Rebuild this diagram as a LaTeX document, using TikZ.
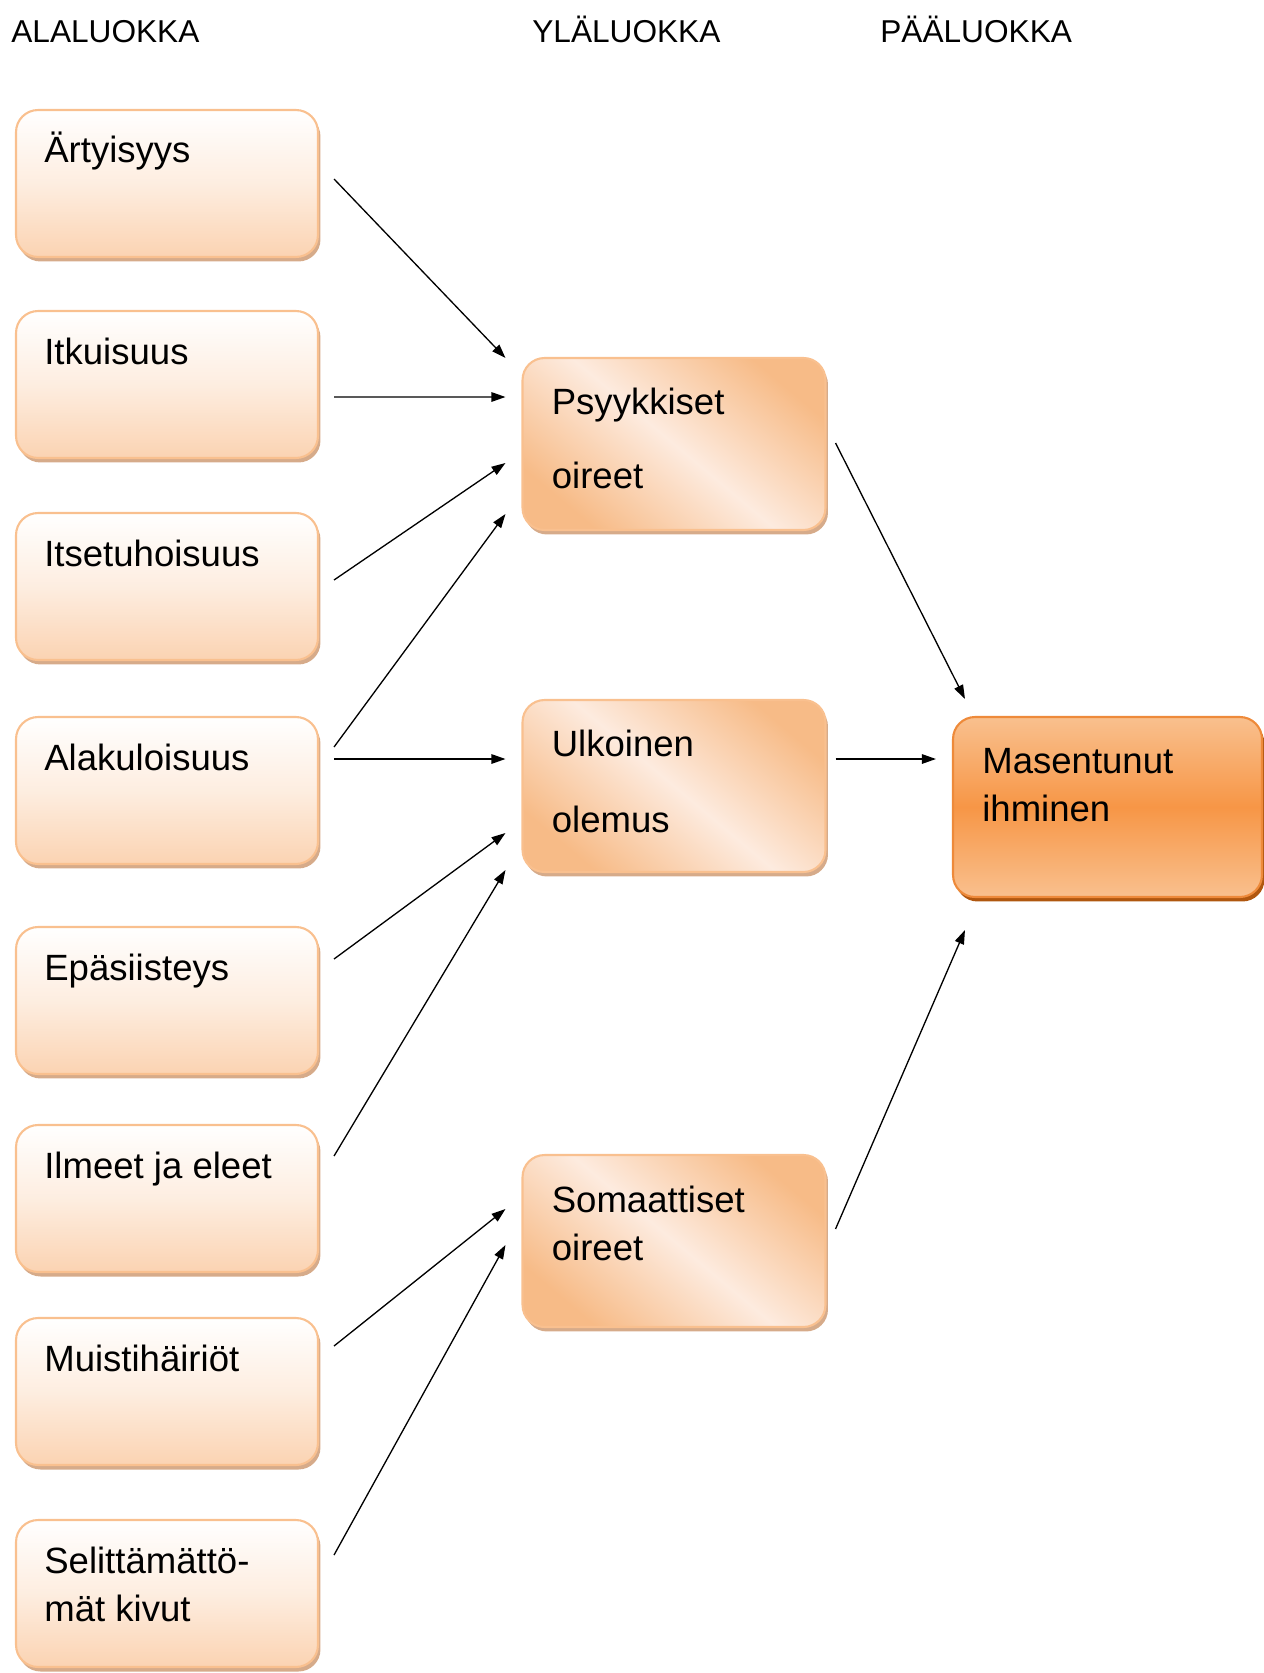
\documentclass[tikz,border=0pt]{standalone}
\usepackage{fontspec}
\setmainfont{Liberation Sans}
\usetikzlibrary{arrows.meta,positioning,calc,shadows}
\definecolor{lowedge}{HTML}{F9C08F}
\definecolor{lowbot}{HTML}{FBD3B2}
\definecolor{lowshade}{HTML}{D6AB8A}
\definecolor{midpeach}{HTML}{F7BB87}
\definecolor{midlight}{HTML}{FDEBDF}
\definecolor{mainedge}{HTML}{EE8A3A}
\definecolor{mainmid}{HTML}{F79646}
\definecolor{mainlight}{HTML}{F9C08E}
\definecolor{mainshade}{HTML}{B0570F}
\newcommand{\boxsize}{\fontsize{20.8}{27.8}\selectfont}
\newcommand{\headsize}{\fontsize{18}{22}\selectfont}

\begin{document}
\begin{tikzpicture}[x=0.02cm,y=-0.02cm,
      box/.style={rounded corners=0.44cm,line width=1.2pt,minimum width=6.04cm,minimum height=2.94cm,inner sep=0},
      lowbox/.style={box,draw=lowedge,top color=white,bottom color=lowbot,middle color=lowbot!40!white,
        general shadow={fill=lowshade,shadow xshift=0.05cm,shadow yshift=-0.09cm}},
      midbox/.style={box,minimum width=6.06cm,minimum height=3.44cm,draw=lowedge,
        top color=midpeach,bottom color=midpeach,middle color=midlight,shading angle=-40,
        general shadow={fill=lowshade,shadow xshift=0.05cm,shadow yshift=-0.09cm}},
      mainbox/.style={box,minimum width=6.18cm,minimum height=3.6cm,draw=mainedge,
        top color=mainlight,bottom color=mainlight,middle color=mainmid,
        general shadow={fill=mainshade,shadow xshift=0.05cm,shadow yshift=-0.09cm}},
      txt/.style={anchor=base west,align=left,inner sep=0,font=\boxsize},
      head/.style={anchor=base west,inner sep=0,font=\headsize},
      arr/.style={-{Triangle[length=0.28cm,width=0.19cm]},line width=0.75pt}]
    \useasboundingbox (0,0) rectangle (1264,1673);
    % column titles
    \node[head] (h1) at (11,42.7) {ALALUOKKA};
    \node[head] (h2) at (532,42.7) {YLÄLUOKKA};
    \node[head] (h3) at (880,42.7) {PÄÄLUOKKA};
    % sub classes
    \node[lowbox] (a1) at (167,183.5) {};
    \node[lowbox] (a2) at (167,384.5) {};
    \node[lowbox] (a3) at (167,586.5) {};
    \node[lowbox] (a4) at (167,790.5) {};
    \node[lowbox] (a5) at (167,1000.5) {};
    \node[lowbox] (a6) at (167,1198.5) {};
    \node[lowbox] (a7) at (167,1391.5) {};
    \node[lowbox] (a8) at (167,1593.5) {};
    % (two-line texts sit on their last baseline)
    \node[txt] (t1) at ($(a1.north west)+(29,54)$) {Ärtyisyys};
    \node[txt] (t2) at ($(a2.north west)+(29,55)$) {Itkuisuus};
    \node[txt] (t3) at ($(a3.north west)+(29,55)$) {Itsetuhoisuus};
    \node[txt] (t4) at ($(a4.north west)+(29,55)$) {Alakuloisuus};
    \node[txt] (t5) at ($(a5.north west)+(29,55)$) {Epäsiisteys};
    \node[txt] (t6) at ($(a6.north west)+(29,55)$) {Ilmeet ja eleet};
    \node[txt] (t7) at ($(a7.north west)+(29,55)$) {Muistihäiriöt};
    \node[txt] (t8) at ($(a8.north west)+(29,103)$) {Selittämättö-\\mät kivut};
    % upper classes
    \node[midbox] (psy) at (674,444) {};
    \node[midbox] (ulk) at (674,786) {};
    \node[midbox] (som) at (674,1241) {};
    \node[txt] (tp) at ($(psy.north west)+(30,132)$) {Psyykkiset\\[14.7pt]oireet};
    \node[txt] (tu) at ($(ulk.north west)+(30,134)$) {Ulkoinen\\[15.9pt]olemus};
    \node[txt] (ts) at ($(som.north west)+(30,107)$) {Somaattiset\\oireet};
    % main class
    \node[mainbox] (mas) at (1107.5,807) {};
    \node[txt] (tm) at ($(mas.north west)+(30,106)$) {Masentunut\\ihminen};
    % connections
    \draw[arr] ($(a1.east)+(15,-4.5)$) -- ($(psy.west)+(-16,-86)$);
    \draw[arr] ($(a2.east)+(15,12.5)$) -- ($(psy.west)+(-16,-47)$);
    \draw[arr] ($(a3.east)+(15,-6.5)$) -- ($(psy.west)+(-16,19)$);
    \draw[arr] ($(a4.east)+(15,-43.5)$) -- ($(psy.west)+(-16,70)$);
    \draw[arr] ($(a4.east)+(15,-31.5)$) -- ($(ulk.west)+(-16,-27)$);
    \draw[arr] ($(a5.east)+(15,-41.5)$) -- ($(ulk.west)+(-16,47)$);
    \draw[arr] ($(a6.east)+(15,-42.5)$) -- ($(ulk.west)+(-16,84)$);
    \draw[arr] ($(a7.east)+(15,-45.5)$) -- ($(som.west)+(-16,-32)$);
    \draw[arr] ($(a8.east)+(15,-38.5)$) -- ($(som.west)+(-16,4)$);
    \draw[arr] ($(psy.east)+(9,-1)$) -- ($(mas.north west)+(13,-17)$);
    \draw[arr] ($(ulk.east)+(9,-27)$) -- ($(mas.west)+(-16,-48)$);
    \draw[arr] ($(som.east)+(9,-12)$) -- ($(mas.south west)+(13,32)$);
  \end{tikzpicture}
\end{document}
